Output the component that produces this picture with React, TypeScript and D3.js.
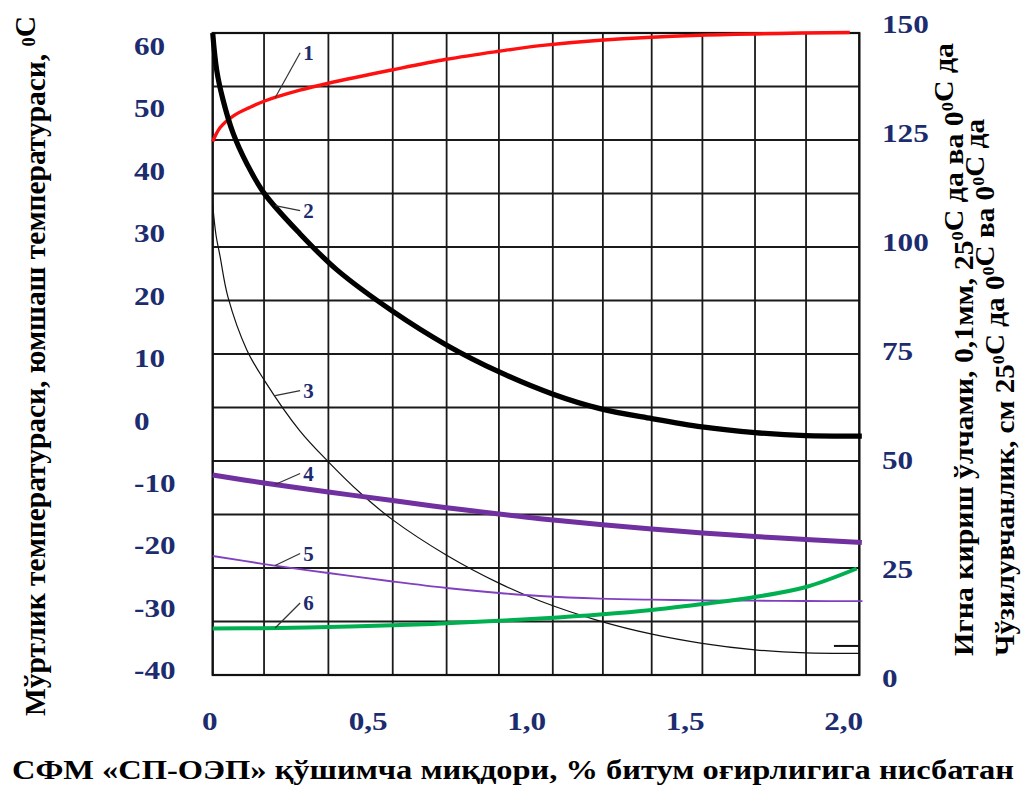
import React from "react";
import * as d3 from "d3";

// Additive dosage, % of bitumen mass (x axis)
const xTicks = [0, 0.5, 1.0, 1.5, 2.0];
const xTickLabels = ["0", "0,5", "1,0", "1,5", "2,0"];
const leftTicks = [60, 50, 40, 30, 20, 10, 0, -10, -20, -30, -40];
const rightTicks = [150, 125, 100, 75, 50, 25, 0];

// Vertical grid lines, in dosage units
const gridX = [0, 0.162, 0.365, 0.568, 0.738, 0.903, 1.073, 1.231, 1.385, 1.545, 1.711, 1.872, 2.04];
const gridRows = 12;

// 1 – softening point, °C (left axis)
const dosage1 = [0, 0.023, 0.0655, 0.118, 0.162, 0.275, 0.365, 0.568, 0.738, 0.903, 1.033, 1.222, 1.537, 2.01];
const softening = [44.3, 46.54, 48.45, 49.82, 50.78, 52.54, 53.66, 55.82, 57.5, 58.78, 59.67, 60.55, 61.35, 61.78];

// 2 – penetration at 25 °C, 0.1 mm (right axis)
const dosage2 = [0, 0.0126, 0.0325, 0.064, 0.108, 0.162, 0.275, 0.392, 0.566, 0.737, 0.904, 1.074, 1.222, 1.386, 1.544, 1.711, 1.872, 2.048];
const penetration25 = [147.5, 139.0, 132.2, 124.6, 117.5, 110.8, 101.5, 93.2, 83.8, 76.0, 69.8, 64.7, 61.4, 59.1, 57.2, 55.9, 55.2, 55.1];

// 3 – penetration at 0 °C, 0.1 mm (right axis)
const dosage3 = [0, 0.0104, 0.023, 0.048, 0.108, 0.162, 0.275, 0.365, 0.465, 0.568, 0.738, 0.903, 1.033, 1.222, 1.386, 1.544, 1.711, 1.872, 2.04];
const penetration0 = [108.1, 101.2, 96.4, 87.0, 74.8, 68.0, 56.3, 49.2, 42.1, 35.9, 27.8, 21.4, 17.3, 12.7, 9.7, 7.6, 6.1, 5.4, 5.3];

// 4 – brittleness point, °C (left axis)
const dosage4 = [0, 0.162, 0.365, 0.568, 0.738, 0.903, 1.033, 1.222, 1.385, 1.545, 1.711, 1.872, 2.048];
const brittleness = [-9.04, -10.32, -11.76, -13.12, -14.28, -15.28, -16.04, -16.96, -17.68, -18.32, -18.88, -19.36, -19.84];

// 5 – ductility at 25 °C, cm (right axis)
const dosage5 = [0, 0.162, 0.365, 0.568, 0.738, 0.903, 1.033, 1.222, 1.385, 1.545, 1.711, 1.872, 2.05];
const ductility25 = [27.62, 25.78, 23.72, 21.77, 20.28, 19.14, 18.45, 17.85, 17.6, 17.46, 17.37, 17.3, 17.26];

// 6 – ductility at 0 °C, cm (right axis)
const dosage6 = [0, 0.162, 0.365, 0.568, 0.738, 0.903, 1.033, 1.222, 1.385, 1.545, 1.711, 1.872, 2.032];
const ductility0 = [11.0, 11.07, 11.34, 11.73, 12.19, 12.77, 13.29, 14.21, 15.24, 16.62, 18.22, 20.51, 24.75];

const curveIds = ["1", "2", "3", "4", "5", "6"];

const W = 1026;
const H = 787;
const frame = { left: 212.7, right: 859.3, top: 33, bottom: 675 };

const x = d3.scaleLinear().domain([0, 2.04]).range([frame.left, frame.right]);
const yLeft = d3.scaleLinear().domain([-41.05, 61.7]).range([frame.bottom, frame.top]);
const yRight = d3.scaleLinear().domain([0.34, 147.5]).range([frame.bottom, frame.top]);
const yRows = d3.scaleLinear().domain([0, gridRows]).range([frame.bottom, frame.top]);

const NAVY = "#1c2c6e";
const SERIF = "'Liberation Serif', 'Times New Roman', Tinos, serif";

type Series = {
  id: string;
  xs: number[];
  ys: number[];
  scale: d3.ScaleLinear<number, number>;
  color: string;
  width: number;
  labelDy: number;
};

const series: Series[] = [
  { id: curveIds[0], xs: dosage1, ys: softening, scale: yLeft, color: "#ff1010", width: 3.4, labelDy: -45 },
  { id: curveIds[1], xs: dosage2, ys: penetration25, scale: yRight, color: "#000000", width: 5.2, labelDy: 5 },
  { id: curveIds[2], xs: dosage3, ys: penetration0, scale: yRight, color: "#111111", width: 1.2, labelDy: -5 },
  { id: curveIds[3], xs: dosage4, ys: brittleness, scale: yLeft, color: "#7030a0", width: 5, labelDy: -11 },
  { id: curveIds[4], xs: dosage5, ys: ductility25, scale: yRight, color: "#8040c0", width: 1.8, labelDy: -12 },
  { id: curveIds[5], xs: dosage6, ys: ductility0, scale: yRight, color: "#00b050", width: 4, labelDy: -25 },
];

const leaderAt = 0.197;

function valueAt(xs: number[], ys: number[], xv: number) {
  const i = Math.max(1, d3.bisectLeft(xs, xv));
  const t = (xv - xs[i - 1]) / (xs[i] - xs[i - 1]);
  return ys[i - 1] + t * (ys[i] - ys[i - 1]);
}

function Sup({ children }: { children: React.ReactNode }) {
  return (
    <>
      <tspan dy={-10} fontSize="0.62em">{children}</tspan>
      <tspan dy={10}>{""}</tspan>
    </>
  );
}

export default function App() {
  return (
    <div style={{ position: "absolute", left: 0, top: 0, width: W, height: H, background: "#fff" }}>
      <svg width={W} height={H} viewBox={`0 0 ${W} ${H}`} style={{ display: "block" }}>
        <rect width={W} height={H} fill="#fff" />

        {/* grid */}
        <g stroke="#1a1a1a" strokeWidth={1.8}>
          {d3.range(gridRows + 1).map((r) => (
            <line key={`h${r}`} x1={frame.left} x2={frame.right} y1={yRows(r)} y2={yRows(r)} />
          ))}
          {gridX.map((g, i) => (
            <line key={`v${i}`} x1={x(g)} x2={x(g)} y1={frame.top} y2={frame.bottom} />
          ))}
        </g>
        <rect
          x={frame.left}
          y={frame.top}
          width={frame.right - frame.left}
          height={frame.bottom - frame.top}
          fill="none"
          stroke="#111"
          strokeWidth={2.2}
        />

        {/* curves */}
        {series.map((s) => {
          const pts: [number, number][] = s.xs.map((xv, i) => [x(xv), s.scale(s.ys[i])]);
          const path = d3.line().curve(d3.curveCatmullRom.alpha(0.5))(pts) || "";
          return (
            <path
              key={s.id}
              d={path}
              fill="none"
              stroke={s.color}
              strokeWidth={s.width}
              strokeLinecap="butt"
              strokeLinejoin="round"
            />
          );
        })}

        {/* short end marker near curve 3 */}
        <line x1={x(1.96)} x2={x(2.04)} y1={yRight(7)} y2={yRight(7)} stroke="#111" strokeWidth={2} />

        {/* curve numbers with leaders */}
        {series.map((s) => {
          const ex = x(leaderAt);
          const ey = s.scale(valueAt(s.xs, s.ys, leaderAt));
          const sx = ex + 25;
          const sy = ey + s.labelDy;
          return (
            <g key={`lab${s.id}`}>
              <line x1={ex} y1={ey} x2={sx} y2={sy} stroke="#333" strokeWidth={1.2} />
              <text
                x={sx + 3}
                y={sy + 7}
                fontFamily={SERIF}
                fontWeight="bold"
                fontSize={21}
                fill={NAVY}
              >
                {s.id}
              </text>
            </g>
          );
        })}

        {/* left tick labels */}
        {leftTicks.map((t) => (
          <text
            key={`l${t}`}
            transform={`translate(134, ${yLeft(t) + 11}) scale(1.2, 1)`}
            fontFamily={SERIF}
            fontWeight="bold"
            fontSize={26}
            fill={NAVY}
          >
            {String(t)}
          </text>
        ))}

        {/* right tick labels */}
        {rightTicks.map((t) => (
          <text
            key={`r${t}`}
            transform={`translate(882, ${yRight(t) + 11}) scale(1.2, 1)`}
            fontFamily={SERIF}
            fontWeight="bold"
            fontSize={26}
            fill={NAVY}
          >
            {String(t)}
          </text>
        ))}

        {/* x tick labels */}
        {xTicks.map((t, i) => (
          <text
            key={`x${t}`}
            transform={`translate(${x(t) - 3}, 730) scale(1.2, 1)`}
            textAnchor="middle"
            fontFamily={SERIF}
            fontWeight="bold"
            fontSize={26}
            fill={NAVY}
          >
            {xTickLabels[i]}
          </text>
        ))}

        {/* axis titles */}
        <text
          x={12}
          y={779}
          textLength={1002}
          lengthAdjust="spacingAndGlyphs"
          fontFamily={SERIF}
          fontWeight="bold"
          fontSize={27}
          fill="#000"
        >
          СФМ «СП-ОЭП» қўшимча миқдори, % битум оғирлигига нисбатан
        </text>

        <text
          transform="translate(45, 716) rotate(-90)"
          textLength={700}
          lengthAdjust="spacingAndGlyphs"
          fontFamily={SERIF}
          fontWeight="bold"
          fontSize={29}
          fill="#000"
        >
          Мўртлик температураси,  юмшаш температураси, <Sup>0</Sup>С
        </text>

        <text
          transform="translate(973, 656) rotate(-90)"
          textLength={613}
          lengthAdjust="spacingAndGlyphs"
          fontFamily={SERIF}
          fontWeight="bold"
          fontSize={27}
          fill="#000"
        >
          Игна кириш ўлчами, 0,1мм, 25<Sup>0</Sup>С да ва 0<Sup>0</Sup>С да
        </text>

        <text
          transform="translate(1014, 656) rotate(-90)"
          textLength={537}
          lengthAdjust="spacingAndGlyphs"
          fontFamily={SERIF}
          fontWeight="bold"
          fontSize={27}
          fill="#000"
        >
          Чўзилувчанлик, см 25<Sup>0</Sup>С да  0<Sup>0</Sup>С ва 0<Sup>0</Sup>С да
        </text>
      </svg>
    </div>
  );
}
